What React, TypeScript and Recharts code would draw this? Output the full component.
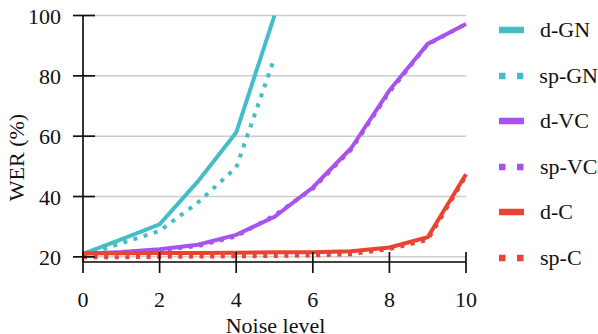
import { CartesianGrid, Legend, Line, LineChart, XAxis, YAxis } from "recharts"

const noise = [0, 1, 2, 3, 4, 5, 6, 7, 8, 9, 10]
const dGN = [21, 25.8, 30.8, 45, 61.2, 100]
const spGN = [20.5, 24.5, 28.6, 38, 49.6, 86]
const dVC = [21, 21.6, 22.5, 24, 27.3, 33.3, 43, 56, 75.2, 90.6, 97.2]
const spVC = [20.6, 21.3, 22.2, 23.6, 26.8, 33.8, 42.6, 55.5, 74.6, 90.4, 97.2]
const dC = [21.2, 21.2, 21.3, 21.3, 21.4, 21.5, 21.5, 21.9, 23.1, 26.5, 47.4]
const spC = [19.9, 19.9, 20, 20.1, 20.2, 20.3, 20.5, 20.9, 22.6, 25.6, 46.9]

const xTicks = [0, 2, 4, 6, 8, 10]
const yTicks = [20, 40, 60, 80, 100]

const teal = "#45BDC6"
const purple = "#A953EC"
const red = "#EB4333"
const ink = "#111111"
const serif = "'Liberation Serif', 'Times New Roman', Times, serif"

const series = [
  { key: "dGN", name: "d-GN", values: dGN, color: teal, dotted: false },
  { key: "spGN", name: "sp-GN", values: spGN, color: teal, dotted: true },
  { key: "dVC", name: "d-VC", values: dVC, color: purple, dotted: false },
  { key: "spVC", name: "sp-VC", values: spVC, color: purple, dotted: true },
  { key: "dC", name: "d-C", values: dC, color: red, dotted: false },
  { key: "spC", name: "sp-C", values: spC, color: red, dotted: true },
]

const rows = noise.map((n, i) => ({
  noise: n,
  ...Object.fromEntries(series.map((s) => [s.key, s.values[i] ?? null])),
}))

function XTick({ x, y, payload }: any) {
  return (
    <g>
      <line x1={x} x2={x} y1={y - 10} y2={y + 11} stroke={ink} strokeWidth={1.7} />
      <text x={x} y={y + 45} textAnchor="middle" fontSize={22} fontFamily={serif} fill={ink}>
        {payload.value}
      </text>
    </g>
  )
}

function YTick({ x, y, payload }: any) {
  return (
    <g>
      <line x1={x - 10} x2={x + 12} y1={y} y2={y} stroke={ink} strokeWidth={1.7} />
      <text x={x - 22} y={y + 8} textAnchor="end" fontSize={22} fontFamily={serif} fill={ink}>
        {payload.value}
      </text>
    </g>
  )
}

function LegendRows() {
  return (
    <div>
      {series.map((s) => (
        <div key={s.key} style={{ display: "flex", alignItems: "center", height: 45.5 }}>
          <svg width={25} height={8}>
            <line
              x1={0}
              x2={25}
              y1={4}
              y2={4}
              stroke={s.color}
              strokeWidth={6.5}
              strokeDasharray={s.dotted ? "6.5 11.5" : undefined}
            />
          </svg>
          <span style={{ marginLeft: 16, fontSize: 22, fontFamily: serif, color: ink, whiteSpace: "nowrap" }}>
            {s.name}
          </span>
        </div>
      ))}
    </div>
  )
}

export default function App() {
  return (
    <div style={{ position: "absolute", left: 0, top: 0, fontFamily: serif, background: "#fff" }}>
      <LineChart width={598} height={334} data={rows} margin={{ top: 15.5, right: 132, bottom: 0, left: 0 }}>
        <CartesianGrid horizontal vertical={false} stroke="#cccccc" strokeWidth={1.5} />
        <XAxis
          dataKey="noise"
          type="number"
          domain={[0, 10]}
          ticks={xTicks}
          height={72}
          tickSize={0}
          tickMargin={0}
          tickLine={false}
          axisLine={{ stroke: ink, strokeWidth: 1.7 }}
          tick={<XTick />}
          label={{
            content: ({ viewBox }: any) => (
              <text
                x={viewBox.x + viewBox.width / 2 + 1}
                y={viewBox.y + 71}
                textAnchor="middle"
                fontSize={22}
                fontFamily={serif}
                fill={ink}
              >
                Noise level
              </text>
            ),
          }}
        />
        <YAxis
          type="number"
          domain={[18.3, 100]}
          ticks={yTicks}
          width={83}
          tickSize={0}
          tickMargin={0}
          tickLine={false}
          axisLine={{ stroke: ink, strokeWidth: 1.7 }}
          tick={<YTick />}
          label={{
            content: () => (
              <text
                transform="translate(24,157.5) rotate(-90)"
                textAnchor="middle"
                fontSize={22}
                fontFamily={serif}
                fill={ink}
              >
                WER (%)
              </text>
            ),
          }}
        />
        <Legend
          layout="vertical"
          align="center"
          verticalAlign="middle"
          wrapperStyle={{ left: 499, top: 7.5, width: 99 }}
          content={() => <LegendRows />}
        />
        {series.map((s) => (
          <Line
            key={s.key}
            dataKey={s.key}
            name={s.name}
            type="linear"
            stroke={s.color}
            strokeWidth={4}
            strokeDasharray={s.dotted ? "4 6.6" : undefined}
            dot={false}
            activeDot={false}
            isAnimationActive={false}
          />
        ))}
      </LineChart>
    </div>
  )
}
